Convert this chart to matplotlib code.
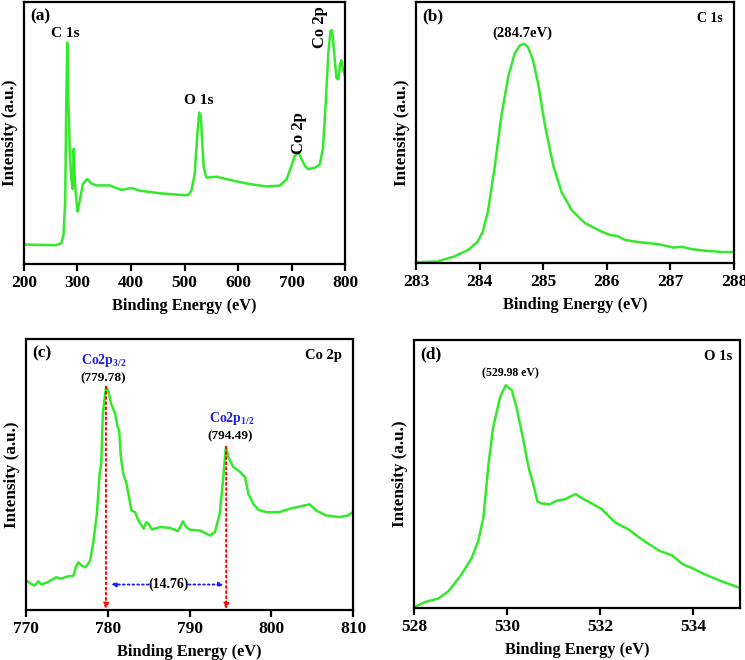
import matplotlib
matplotlib.use("Agg")
import matplotlib.pyplot as plt

plt.rcParams['font.family'] = ['Liberation Serif', 'DejaVu Serif']
plt.rcParams['font.weight'] = 'bold'
plt.rcParams['mathtext.fontset'] = 'custom'
plt.rcParams['mathtext.rm'] = 'Liberation Serif:bold'
plt.rcParams['mathtext.bf'] = 'Liberation Serif:bold'
plt.rcParams['mathtext.it'] = 'Liberation Serif:bold'

GREEN = '#33ea2a'

# (a) survey spectrum
survey_x = [200, 260.5, 270, 274, 277, 279, 281, 283, 285.5, 288.6, 291, 293, 295, 298, 300,
            304, 310, 318, 326, 335, 360, 382, 401, 416, 454, 491, 507, 513, 519, 524, 527.5,
            530.5, 533, 536, 541, 560, 591, 622, 653, 678, 691, 700, 706, 713, 719, 725, 731,
            744, 753, 759, 764, 769, 773, 776, 780, 784, 787.5, 790.5, 793, 797, 800]
survey_y = [7.4, 7.2, 8, 11.4, 24, 62, 84.5, 62, 43, 32, 28.6, 44, 32, 24, 20,
            24, 30.5, 32.4, 30.7, 30, 30, 28.3, 29, 28, 27, 26.4, 26.3, 28, 34.3, 49.6, 57.8,
            56.5, 47, 36.8, 33, 33.3, 31.8, 30.5, 29.6, 29.9, 32.4, 37.5, 41.3, 42.6, 40, 37.5, 36.2,
            36.8, 38, 44.5, 62, 81, 89, 89.2, 80, 71, 70.5, 76, 77.8, 73.7, 71.8]
survey_ticks = [200, 300, 400, 500, 600, 700, 800]

# (b) C 1s
c1s_x = [283, 283.34, 283.6, 283.82, 283.97, 284.05, 284.13, 284.24, 284.34, 284.45, 284.55,
         284.63, 284.7, 284.76, 284.84, 284.92, 285.03, 285.16, 285.29, 285.45, 285.66, 285.92,
         286.05, 286.16, 286.29, 286.5, 286.82, 287.05, 287.18, 287.34, 287.55, 287.82, 288]
c1s_y = [0.3, 0.6, 2.5, 5, 8.2, 12, 19.6, 37.2, 56, 71.3, 80.2,
         83.3, 84, 82.7, 77.7, 68.8, 52.4, 37.2, 27.1, 20.2, 15.2, 12,
         10.7, 10.4, 8.8, 8, 7.2, 5.9, 6.2, 5.3, 4.7, 4.2, 4.2]
c1s_ticks = [283, 284, 285, 286, 287, 288]

# (c) Co 2p
co2p_x = [770, 770.5, 771.06, 771.5, 771.9, 772.6, 773.7, 774.2, 775, 775.8, 776.1, 776.4, 776.8,
          777.3, 777.85, 778.26, 778.67, 779, 779.2, 779.4, 779.8, 780.1, 780.4, 780.9, 781.2,
          781.4, 781.6, 781.9, 782.3, 782.9, 783.35, 783.75, 784.4, 784.7, 785, 785.4, 786.4,
          787.6, 788.6, 789.2, 789.6, 790.1, 791.3, 792.5, 793.1, 793.7, 794.1, 794.45, 794.74,
          795.35, 796.2, 796.8, 797.2, 797.8, 798.4, 799.4, 801, 802.3, 803.5, 804.7, 805.5,
          806.7, 808.4, 809.4, 810]
co2p_y = [10.9, 9.9, 9, 10.6, 9.4, 10.2, 12.1, 11.5, 12.3, 12.7, 15.8, 17.6, 16.4,
          15.8, 18.2, 25.6, 35.5, 50.3, 54, 72.5, 82.4, 80.5, 76.2, 72.5, 67.6,
          66.3, 56.5, 50.3, 46.6, 36.7, 36.1, 33, 30, 32.4, 31.8, 29.7, 30.6,
          30.3, 29.1, 32.7, 30.6, 29.6, 29.3, 27.5, 28.7, 35.5, 47.8, 60.2, 56.5,
          52.8, 50.9, 49, 42.9, 39.2, 37, 36.1, 36.1, 37.4, 38.2, 39, 36.7,
          34.9, 34.3, 34.9, 36.1]
co2p_ticks = [770, 780, 790, 800, 810]
co2p_peaks = [779.78, 794.49]
co2p_peak_heights = [82.4, 60.2]
co2p_split = "(14.76)"

# (d) O 1s
o1s_x = [528, 528.24, 528.52, 528.74, 529.02, 529.24, 529.38, 529.49, 529.6, 529.7, 529.85,
         529.97, 530.1, 530.2, 530.35, 530.46, 530.56, 530.65, 530.74, 530.92, 531.06, 531.24,
         531.47, 531.64, 531.82, 532.03, 532.32, 532.6, 532.82, 533.03, 533.28, 533.53, 533.78,
         533.96, 534.25, 534.6, 535]
o1s_y = [0.25, 2.25, 3.5, 6.25, 12.5, 18.75, 25, 33.75, 53.75, 67.5, 78.75,
         83.1, 81.25, 75, 62.5, 52.5, 46.25, 39.75, 39, 38.75, 40, 40.6,
         42.5, 40.6, 39, 36.9, 31.9, 29.4, 26.5, 24, 21.25, 19.75, 16.25,
         15, 12.5, 10, 7.5]
o1s_ticks = [528, 530, 532, 534]

W, H = 745, 660
fig = plt.figure(figsize=(W / 100, H / 100), dpi=100)


def make_ax(left, top, right, bottom):
    return fig.add_axes([left / W, (H - bottom) / H, (right - left) / W, (bottom - top) / H])


def style(ax, xlim, ticks, letter):
    ax.set_xlim(*xlim)
    ax.set_ylim(0, 100)
    ax.set_xticks(ticks)
    ax.set_yticks([])
    for s in ax.spines.values():
        s.set_linewidth(1.6)
    ax.tick_params(axis='x', direction='out', length=5, width=1.6, labelsize=12.5, pad=3)
    for lab in ax.get_xticklabels():
        lab.set_fontweight('bold')
    ax.set_xlabel('Binding Energy (eV)', fontsize=11.8, fontweight='bold', labelpad=5)
    ax.set_ylabel('Intensity (a.u.)', fontsize=12.3, fontweight='bold', labelpad=4)
    ax.text(0.02, 0.975, letter, transform=ax.transAxes, ha='left', va='top',
            fontsize=12.5, fontweight='bold')


# (a)
axa = make_ax(24, 2, 345, 264)
axa.plot(survey_x, survey_y, color=GREEN, lw=1.8, solid_joinstyle='round')
style(axa, (200, 800), survey_ticks, '(a)')
axa.text(278, 88, 'C 1s', ha='center', va='center', fontsize=11, fontweight='bold')
axa.text(527.5, 62.5, 'O 1s', ha='center', va='center', fontsize=11, fontweight='bold')
axa.text(714, 50, 'Co 2p', ha='center', va='center', rotation=90, fontsize=12, fontweight='bold')
axa.text(753, 90.5, 'Co 2p', ha='center', va='center', rotation=90, fontsize=12, fontweight='bold')

# (b)
axb = make_ax(416, 2, 734, 263)
axb.plot(c1s_x, c1s_y, color=GREEN, lw=1.8, solid_joinstyle='round')
style(axb, (283, 288), c1s_ticks, '(b)')
axb.text(284.67, 88, '(284.7eV)', ha='center', va='center', fontsize=10.5, fontweight='bold')
axb.text(0.965, 0.935, 'C 1s', transform=axb.transAxes, ha='right', va='center',
         fontsize=10, fontweight='bold')

# (c)
axc = make_ax(26, 339, 353, 610)
axc.plot(co2p_x, co2p_y, color=GREEN, lw=1.8, solid_joinstyle='round')
style(axc, (770, 810), co2p_ticks, '(c)')
for px, ph in zip(co2p_peaks, co2p_peak_heights):
    axc.annotate('', xy=(px, 0.3), xytext=(px, ph),
                 arrowprops=dict(arrowstyle='-|>', color='red', linestyle=':', lw=1.4,
                                 mutation_scale=8, shrinkA=0, shrinkB=0))
arrow_y = 9.4
axc.text(787.4, arrow_y, co2p_split, ha='center', va='center', fontsize=10, fontweight='bold')
axc.annotate('', xy=(780.4, arrow_y), xytext=(785.0, arrow_y),
             arrowprops=dict(arrowstyle='-|>', color='#1a1aff', linestyle=':', lw=1.3,
                             mutation_scale=7, shrinkA=0, shrinkB=0))
axc.annotate('', xy=(794.2, arrow_y), xytext=(789.9, arrow_y),
             arrowprops=dict(arrowstyle='-|>', color='#1a1aff', linestyle=':', lw=1.3,
                             mutation_scale=7, shrinkA=0, shrinkB=0))
axc.text(779.5, 92, r'Co2p$_{\mathbf{3/2}}$', ha='center', va='center', fontsize=10,
         fontweight='bold', color='#2020e0')
axc.text(779.5, 85.5, '(779.78)', ha='center', va='center', fontsize=9.5, fontweight='bold')
axc.text(795.2, 70.5, r'Co2p$_{\mathbf{1/2}}$', ha='center', va='center', fontsize=10,
         fontweight='bold', color='#2020e0')
axc.text(795.0, 64, '(794.49)', ha='center', va='center', fontsize=9.5, fontweight='bold')
axc.text(0.965, 0.94, 'Co 2p', transform=axc.transAxes, ha='right', va='center',
         fontsize=10.5, fontweight='bold')

# (d)
axd = make_ax(414, 340, 740, 608)
axd.plot(o1s_x, o1s_y, color=GREEN, lw=1.8, solid_joinstyle='round')
style(axd, (528, 535), o1s_ticks, '(d)')
axd.text(530.08, 87.5, '(529.98 eV)', ha='center', va='center', fontsize=8.5, fontweight='bold')
axd.text(0.975, 0.94, 'O 1s', transform=axd.transAxes, ha='right', va='center',
         fontsize=10.5, fontweight='bold')

fig.savefig('out.png', dpi=100)
